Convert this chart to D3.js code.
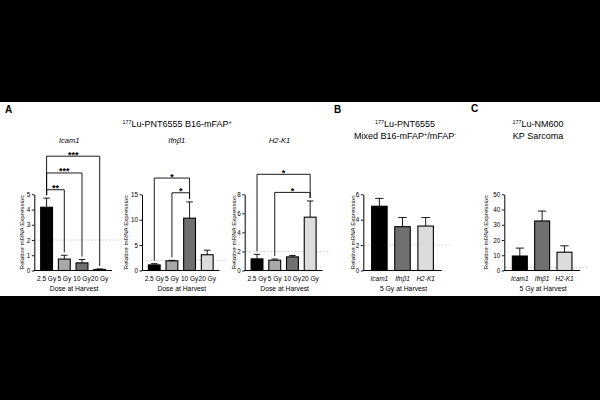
<!DOCTYPE html>
<meta charset="utf-8">
<script src="https://d3js.org/d3.v7.min.js"></script>
<style>
body{margin:0;background:#000;}
svg{display:block;font-family:"Liberation Sans",Arial,sans-serif;}
.tick text{font-size:6.3px;}
</style>
<div id="chart"></div>
<script>
// values
var doses = ["2.5 Gy", "5 Gy", "10 Gy", "20 Gy"];
var genes = ["Icam1", "Ifnβ1", "H2-K1"];

var icam1Mean = [4.15, 0.75, 0.5, 0.07];
var icam1Sem  = [0.6, 0.25, 0.22, 0.03];
var ifnb1Mean = [1.1, 1.9, 10.3, 3.1];
var ifnb1Sem  = [0.25, 0.1, 3.2, 0.9];
var h2k1Mean  = [1.22, 1.08, 1.43, 5.6];
var h2k1Sem   = [0.48, 0.12, 0.15, 1.7];

var mixedMean = [5.06, 3.45, 3.5];
var mixedSem  = [0.62, 0.72, 0.67];
var kpMean    = [9.5, 32.5, 12];
var kpSem     = [5.2, 6.5, 4.2];

// [from, to, stars, bracket level in y units]
var icam1Sig = [[0, 3, "***", 7.5], [0, 2, "***", 6.4], [0, 1, "**", 5.3]];
var ifnb1Sig = [[0, 2, "*", 18.2], [1, 2, "*", 15.3]];
var h2k1Sig  = [[0, 3, "*", 10.1], [1, 3, "*", 8.2]];

var threshold = 2;

var doseFills = ["#000000", "#a8a8a8", "#707070", "#dcdcdc"];
var geneFills = ["#000000", "#707070", "#dcdcdc"];

var W = 600, H = 400;
var top_y = 194.3, bot_y = 270.5;

var svg = d3.select("#chart").append("svg")
    .attr("width", W).attr("height", H);

svg.append("rect").attr("x", 0).attr("y", 102).attr("width", W).attr("height", 194)
    .attr("fill", "#fff");

var panels = [
    {cats: doses, mean: icam1Mean, sem: icam1Sem, sig: icam1Sig, fills: doseFills,
     x0: 34.3, x1: 112, ymax: 5, ticks: [0,1,2,3,4,5], ytx: 21,
     title: "Icam1", xlab: "Dose at Harvest", italicCats: false},
    {cats: doses, mean: ifnb1Mean, sem: ifnb1Sem, sig: ifnb1Sig, fills: doseFills,
     x0: 142, x1: 219.5, ymax: 15, ticks: [0,5,10,15], ytx: 125,
     title: "Ifnβ1", xlab: "Dose at Harvest", italicCats: false},
    {cats: doses, mean: h2k1Mean, sem: h2k1Sem, sig: h2k1Sig, fills: doseFills,
     x0: 244.7, x1: 322.5, ymax: 8, ticks: [0,2,4,6,8], ytx: 233.3,
     title: "H2-K1", xlab: "Dose at Harvest", italicCats: false},
    {cats: genes, mean: mixedMean, sem: mixedSem, sig: [], fills: geneFills,
     x0: 363.3, x1: 441.7, ymax: 6, ticks: [0,2,4,6], ytx: 352.3,
     title: null, xlab: "5 Gy at Harvest", italicCats: true},
    {cats: genes, mean: kpMean, sem: kpSem, sig: [], fills: geneFills,
     x0: 504.3, x1: 580, ymax: 50, ticks: [0,10,20,30,40,50], ytx: 485,
     title: null, xlab: "5 Gy at Harvest", italicCats: true}
];

panels.forEach(function(p) {
    var g = svg.append("g");
    var x = d3.scaleBand().domain(d3.range(p.cats.length))
        .range([p.x0, p.x1]).paddingInner(0.33).paddingOuter(0.36);
    var y = d3.scaleLinear().domain([0, p.ymax]).range([bot_y, top_y]);

    // threshold line
    g.append("line")
        .attr("x1", p.x0 + 1).attr("x2", p.x1 + 8)
        .attr("y1", y(threshold)).attr("y2", y(threshold))
        .attr("stroke", "#c8c8c8").attr("stroke-width", 0.8)
        .attr("stroke-dasharray", "2,1.5");

    // bars
    g.selectAll("rect.bar").data(p.mean).enter().append("rect")
        .attr("class", "bar")
        .attr("x", function(d, i) { return x(i); })
        .attr("y", function(d) { return y(d); })
        .attr("width", x.bandwidth())
        .attr("height", function(d) { return bot_y - y(d); })
        .attr("fill", function(d, i) { return p.fills[i]; })
        .attr("stroke", "#000").attr("stroke-width", 1.1);

    // error bars (upper only)
    var cap = x.bandwidth() * 0.55;
    p.mean.forEach(function(m, i) {
        var cx = x(i) + x.bandwidth() / 2;
        g.append("line").attr("x1", cx).attr("x2", cx)
            .attr("y1", y(m)).attr("y2", y(m + p.sem[i]))
            .attr("stroke", "#000").attr("stroke-width", 0.9);
        g.append("line").attr("x1", cx - cap / 2).attr("x2", cx + cap / 2)
            .attr("y1", y(m + p.sem[i])).attr("y2", y(m + p.sem[i]))
            .attr("stroke", "#000").attr("stroke-width", 0.9);
    });

    // y axis
    var ya = g.append("g").attr("transform", "translate(" + p.x0 + ",0)")
        .call(d3.axisLeft(y).tickValues(p.ticks).tickFormat(d3.format("d"))
            .tickSize(2.5).tickSizeOuter(0).tickPadding(1.5));
    ya.select(".domain").attr("stroke-width", 1);
    ya.selectAll(".tick line").attr("stroke-width", 0.9);

    // x axis line
    g.append("line").attr("x1", p.x0 - 0.5).attr("x2", p.x1)
        .attr("y1", bot_y).attr("y2", bot_y)
        .attr("stroke", "#000").attr("stroke-width", 1);

    // category labels
    g.selectAll("text.cat").data(p.cats).enter().append("text")
        .attr("x", function(d, i) { return x(i) + x.bandwidth() / 2; })
        .attr("y", 281.3)
        .attr("text-anchor", "middle")
        .attr("font-size", 6.5)
        .attr("font-style", p.italicCats ? "italic" : "normal")
        .text(function(d) { return d; });

    g.append("text")
        .attr("x", (p.x0 + p.x1) / 2 + 1).attr("y", 290.5)
        .attr("text-anchor", "middle").attr("font-size", 6.8)
        .text(p.xlab);

    g.append("text")
        .attr("transform", "translate(" + p.ytx + "," + (top_y + bot_y) / 2 + ") rotate(-90)")
        .attr("text-anchor", "middle").attr("dominant-baseline", "central")
        .attr("font-size", 6.2)
        .text("Relative mRNA Expression");

    if (p.title) {
        g.append("text")
            .attr("x", (p.x0 + p.x1) / 2 - 4).attr("y", 142.5)
            .attr("text-anchor", "middle").attr("font-size", 7.5)
            .attr("font-style", "italic")
            .text(p.title);
    }

    // significance brackets
    p.sig.forEach(function(s) {
        var xa = x(s[0]) + x.bandwidth() / 2, xb = x(s[1]) + x.bandwidth() / 2;
        var ly = y(s[3]);
        var la = y(p.mean[s[0]] + p.sem[s[0]]) - 3;
        var lb = y(p.mean[s[1]] + p.sem[s[1]]) - 3;
        g.append("path")
            .attr("d", "M" + xa + "," + la + "V" + ly + "H" + xb + "V" + lb)
            .attr("fill", "none").attr("stroke", "#000").attr("stroke-width", 0.9);
        g.append("text")
            .attr("x", (xa + xb) / 2).attr("y", ly + 1.5)
            .attr("text-anchor", "middle").attr("font-size", 9)
            .attr("font-weight", "bold")
            .text(s[2]);
    });
});

// panel letters
[["A", 5, 112.5], ["B", 334, 113], ["C", 471, 112]].forEach(function(l) {
    svg.append("text").attr("x", l[1]).attr("y", l[2])
        .attr("font-size", 10).attr("font-weight", "bold").text(l[0]);
});

// titles with superscripts
function title(xc, yb, parts) {
    var t = svg.append("text").attr("x", xc).attr("y", yb)
        .attr("text-anchor", "middle").attr("font-size", 9);
    parts.forEach(function(pt) {
        var ts = t.append("tspan").text(pt[0]);
        if (pt[1]) ts.attr("font-size", 5.4).attr("baseline-shift", "super");
    });
}
title(177, 126.5, [["177", 1], ["Lu-PNT6555 B16-mFAP"], ["+", 1]]);
title(405, 127, [["177", 1], ["Lu-PNT6555"]]);
title(405, 138.8, [["Mixed B16-mFAP"], ["+", 1], ["/mFAP"], ["-", 1]]);
title(538, 127, [["177", 1], ["Lu-NM600"]]);
title(538, 138.8, [["KP Sarcoma"]]);
</script>
